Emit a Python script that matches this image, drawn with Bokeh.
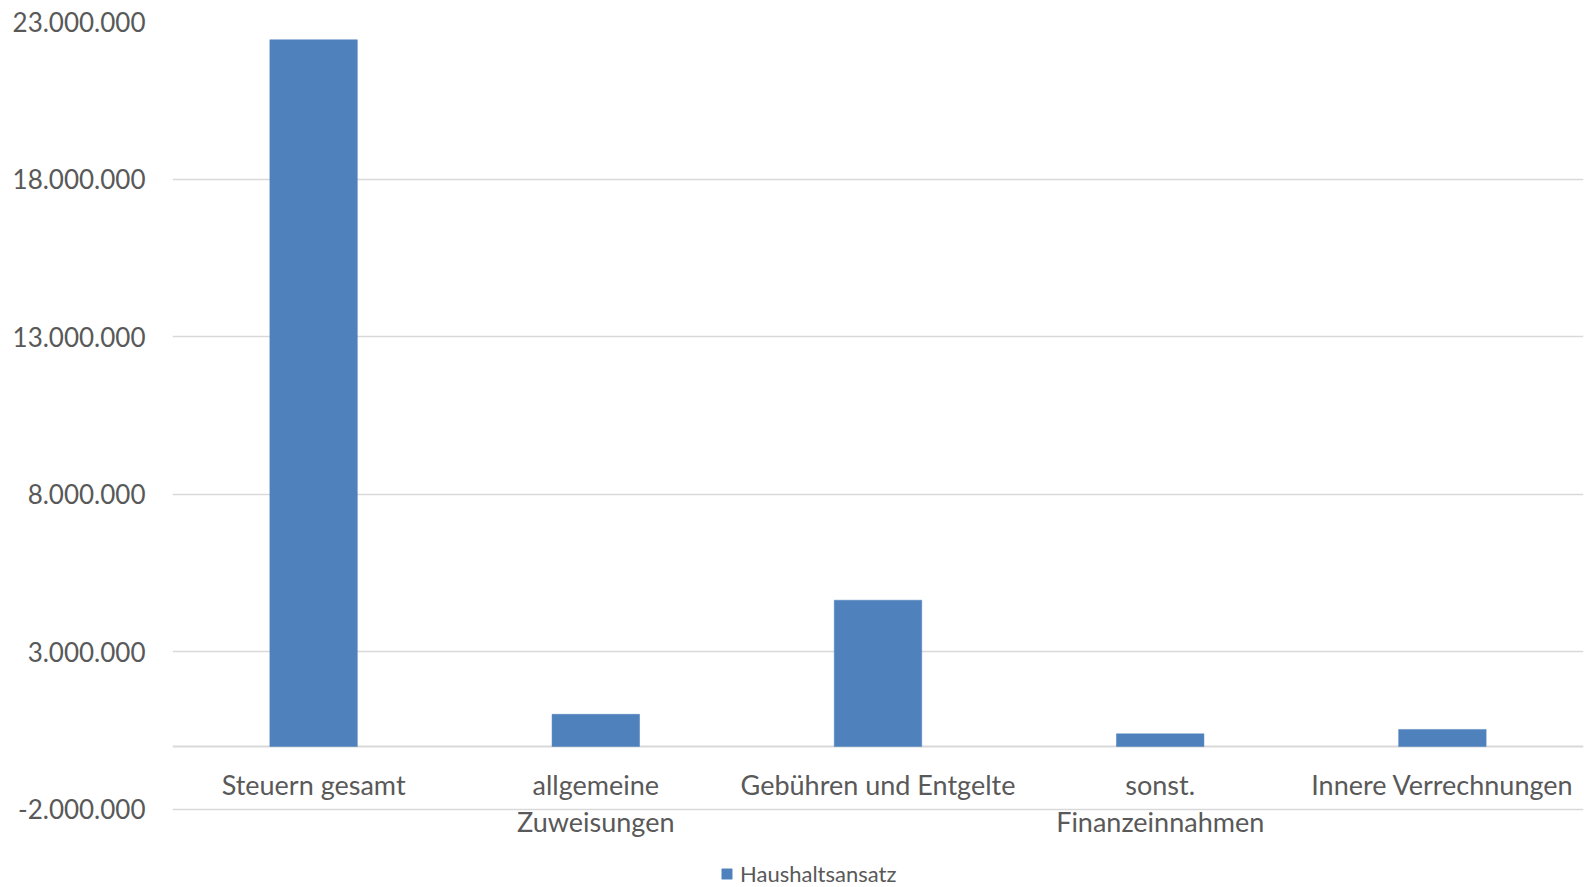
from bokeh.plotting import figure
from bokeh.models import Range1d, FactorRange, FixedTicker, Span, Legend, LegendItem, ColumnDataSource
from bokeh.core.properties import value
from bokeh.embed import file_html
from bokeh.resources import INLINE

categories = ["Steuern gesamt", "allgemeine Zuweisungen", "Gebühren und Entgelte",
              "sonst. Finanzeinnahmen", "Innere Verrechnungen"]
category_labels = ["Steuern gesamt", "allgemeine\nZuweisungen", "Gebühren und Entgelte",
                   "sonst.\nFinanzeinnahmen", "Innere Verrechnungen"]
haushaltsansatz = [22420000, 1020000, 4640000, 400000, 540000]
label_base = [0, 0, 0, 0, 0]
y_ticks = [-2000000, 3000000, 8000000, 13000000, 18000000, 23000000]
y_tick_labels = ["-2.000.000", "3.000.000", "8.000.000", "13.000.000", "18.000.000", "23.000.000"]
series_name = "Haushaltsansatz"

FONT = "Lato"
TEXT = "#595959"
GRID = "#d9d9d9"
BAR = "#4f81bd"

# frame extends below the lowest gridline so the wrapped category labels and legend are not clipped
p = figure(x_range=FactorRange(factors=categories, range_padding=0),
           y_range=Range1d(-4475000, 23000000),
           width=1585, height=887,
           frame_width=1411, frame_height=866,
           min_border_left=172, min_border_right=2, min_border_top=21, min_border_bottom=0,
           output_backend="svg", toolbar_location=None)

p.outline_line_color = None
p.background_fill_color = "white"
p.border_fill_color = "white"

src = ColumnDataSource(dict(cat=categories, val=haushaltsansatz))
bars = p.vbar(x="cat", top="val", bottom=0, width=0.31, source=src,
              fill_color=BAR, line_color=BAR, line_width=0.5)

zero = Span(location=0, dimension="width", line_color=GRID, line_width=2, level="underlay")
p.add_layout(zero)

p.xaxis.visible = False
p.xgrid.grid_line_color = None
p.ygrid.grid_line_color = GRID
p.ygrid.grid_line_width = 1.5

yax = p.yaxis[0]
yax.ticker = FixedTicker(ticks=y_ticks)
yax.major_label_overrides = {t: l for t, l in zip(y_ticks, y_tick_labels)}
yax.axis_line_color = None
yax.major_tick_line_color = None
yax.minor_tick_line_color = None
yax.major_tick_out = 0
yax.major_tick_in = 0
yax.major_label_standoff = 27
yax.major_label_text_font = FONT
yax.major_label_text_font_size = "26px"
yax.major_label_text_color = TEXT

p.text(x=categories, y=label_base, text=category_labels,
       text_font=value(FONT), text_font_size="27px", text_color=TEXT,
       text_align="center", text_baseline="top", y_offset=22, text_line_height=1.1)

legend = Legend(items=[LegendItem(label=series_name, renderers=[bars])],
                location=(548, 0), orientation="horizontal",
                margin=0, padding=0, border_line_color=None, background_fill_alpha=0,
                glyph_width=13, glyph_height=13, label_standoff=7,
                label_text_font=FONT, label_text_font_size="22px", label_text_color=TEXT)
p.add_layout(legend, "center")

open("out.html", "w").write(file_html(p, INLINE))
